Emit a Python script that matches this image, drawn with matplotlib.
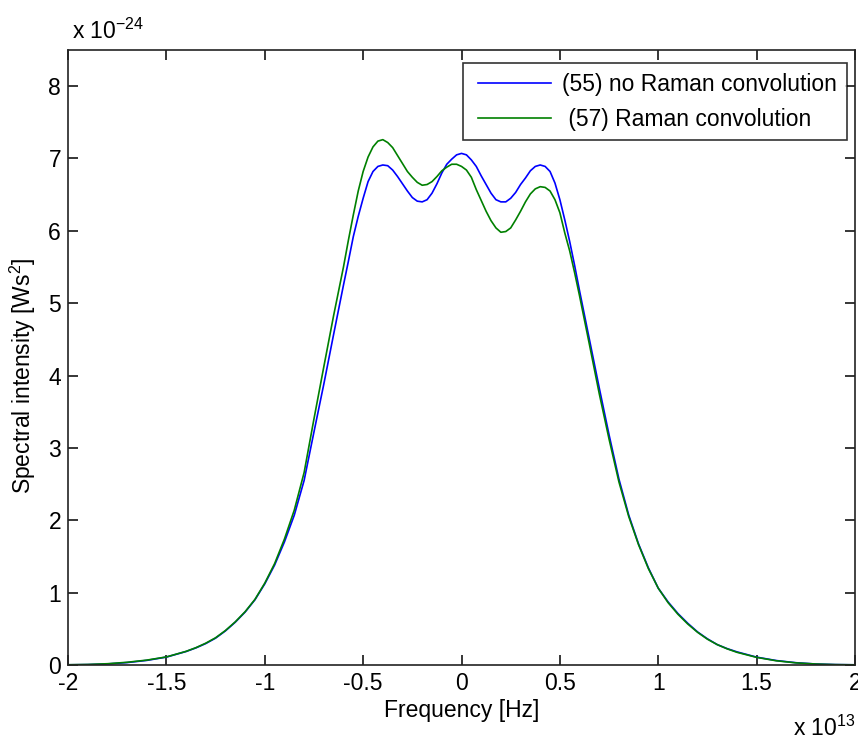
import matplotlib
matplotlib.use("Agg")
import matplotlib.pyplot as plt
from matplotlib.legend_handler import HandlerLine2D

plt.rcParams['font.family'] = ['Liberation Sans', 'DejaVu Sans']
plt.rcParams['mathtext.fontset'] = 'custom'
plt.rcParams['mathtext.rm'] = 'Liberation Sans'
plt.rcParams['mathtext.it'] = 'Liberation Sans'

# frequency in units of 1e13 Hz, intensity in units of 1e-24 Ws^2
freq = [-2.0, -1.9, -1.8, -1.7, -1.6, -1.5, -1.4, -1.35, -1.3, -1.25,
        -1.2, -1.15, -1.1, -1.05, -1.0, -0.95, -0.9, -0.85, -0.8, -0.75,
        -0.7, -0.65,
        -0.6, -0.575, -0.55, -0.525, -0.5, -0.475, -0.45, -0.425, -0.4, -0.375,
        -0.35, -0.325, -0.3, -0.275, -0.25, -0.225, -0.2, -0.175, -0.15, -0.125,
        -0.1, -0.075, -0.05, -0.025, 0.0, 0.025, 0.05, 0.075, 0.1, 0.125,
        0.15, 0.175, 0.2, 0.225, 0.25, 0.275, 0.3, 0.325, 0.35, 0.375,
        0.4, 0.425, 0.45, 0.475, 0.5, 0.525, 0.55, 0.575, 0.6,
        0.65, 0.7, 0.75, 0.8, 0.85, 0.9, 0.95, 1.0, 1.05, 1.1,
        1.15, 1.2, 1.25, 1.3, 1.35, 1.4, 1.5, 1.6, 1.7, 1.8, 1.9, 2.0]

no_raman = [0.001, 0.004, 0.013, 0.032, 0.062, 0.108, 0.185, 0.235, 0.295, 0.37,
            0.47, 0.59, 0.73, 0.90, 1.12, 1.38, 1.70, 2.07, 2.55, 3.22,
            3.88, 4.57,
            5.25, 5.58, 5.92, 6.20, 6.45, 6.68, 6.82, 6.89, 6.91, 6.90,
            6.84, 6.75, 6.65, 6.55, 6.46, 6.41, 6.40, 6.43, 6.52, 6.65,
            6.80, 6.92, 6.99, 7.05, 7.07, 7.05, 6.98, 6.89, 6.76, 6.64,
            6.52, 6.43, 6.40, 6.40, 6.45, 6.53, 6.64, 6.73, 6.83, 6.89,
            6.91, 6.89, 6.82, 6.66, 6.43, 6.15, 5.85, 5.52, 5.17,
            4.50, 3.83, 3.18, 2.57, 2.07, 1.67, 1.34, 1.06, 0.87, 0.71,
            0.575, 0.455, 0.36, 0.28, 0.225, 0.18, 0.107, 0.06, 0.03, 0.012, 0.004, 0.001]

raman = [0.002, 0.006, 0.016, 0.036, 0.066, 0.11, 0.187, 0.238, 0.30, 0.375,
         0.475, 0.595, 0.735, 0.905, 1.13, 1.40, 1.74, 2.14, 2.66, 3.40,
         4.12, 4.83,
         5.50, 5.87, 6.22, 6.55, 6.82, 7.02, 7.16, 7.24, 7.26, 7.22,
         7.15, 7.04, 6.93, 6.82, 6.74, 6.67, 6.63, 6.64, 6.68, 6.75,
         6.83, 6.88, 6.92, 6.92, 6.89, 6.84, 6.74, 6.57, 6.42, 6.27,
         6.14, 6.04, 5.98, 5.99, 6.04, 6.15, 6.27, 6.40, 6.51, 6.58,
         6.61, 6.60, 6.55, 6.43, 6.25, 5.97, 5.72, 5.42, 5.10,
         4.43, 3.75, 3.12, 2.53, 2.05, 1.66, 1.33, 1.06, 0.86, 0.70,
         0.565, 0.45, 0.355, 0.28, 0.222, 0.174, 0.104, 0.057, 0.028, 0.012, 0.004, 0.001]

labels = ['(55) no Raman convolution', ' (57) Raman convolution']
xticks = [-2, -1.5, -1, -0.5, 0, 0.5, 1, 1.5, 2]
xticklabels = ['-2', '-1.5', '-1', '-0.5', '0', '0.5', '1', '1.5', '2']
yticks = [0, 1, 2, 3, 4, 5, 6, 7, 8]

fs = 16.5

fig = plt.figure(figsize=(8.58, 7.4), dpi=100)
ax = fig.add_axes([0.0793, 0.1015, 0.9172, 0.831])

ax.plot(freq, no_raman, color=(0, 0, 1), lw=1.2, label=labels[0])
ax.plot(freq, raman, color=(0, 0.5, 0), lw=1.2, label=labels[1])

ax.set_xlim(-2, 2)
ax.set_ylim(0, 8.5)
ax.set_xticks(xticks)
ax.set_xticklabels(xticklabels)
ax.set_yticks(yticks)
ax.tick_params(direction='in', length=7, width=1.1, top=True, right=True,
               labelsize=fs, pad=5, colors='black')
for s in ax.spines.values():
    s.set_linewidth(1.2)
    s.set_color('#222222')

ax.set_xlabel('Frequency [Hz]', fontsize=fs, labelpad=3)
ax.set_ylabel('Spectral intensity [Ws$^2$]', fontsize=fs)
ax.yaxis.set_label_coords(-0.038, 0.47)

fig.text(72 / 858, 1 - 39 / 740, r'x 10$^{\mathregular{-24}}$',
         fontsize=fs, ha='left', va='baseline')
fig.text(855 / 858, 1 - 736 / 740, r'x 10$^{\mathregular{13}}$',
         fontsize=fs, ha='right', va='baseline')

hm = {ln: HandlerLine2D(numpoints=2, marker_pad=0.235) for ln in ax.get_lines()}
leg = ax.legend(loc='upper right', fontsize=fs, frameon=True, fancybox=False,
                edgecolor='black', handlelength=3.66, handletextpad=0.26,
                borderpad=0.42, labelspacing=0.52, borderaxespad=0,
                bbox_to_anchor=(847 / 858, 1 - 63 / 740),
                bbox_transform=fig.transFigure, handler_map=hm)
leg.get_frame().set_linewidth(1.2)

fig.savefig('out.png', dpi=100)
